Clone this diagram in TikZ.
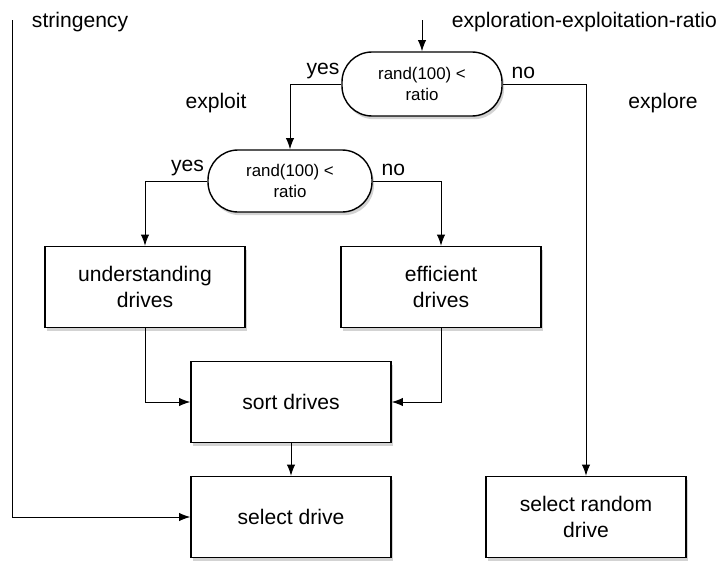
\documentclass[tikz,border=0pt]{standalone}
\usepackage{fontspec}
\setmainfont{Liberation Sans}
\usepackage{tikz}
\usetikzlibrary{arrows.meta}
\usetikzlibrary{positioning}
\usetikzlibrary{shadows}

\begin{document}
\begin{tikzpicture}[node distance=2.875cm, auto, >={Latex[length=2.8mm,width=2.1mm]}]

\tikzstyle{every node} = [font=\fontsize{15}{19}\selectfont]
\tikzstyle{box} = [draw, line width=1pt, fill=white, align=center, minimum width=5cm, minimum height=2.025cm, drop shadow={shadow xshift=0.05cm, shadow yshift=-0.08cm, opacity=0.35}]
\tikzstyle{decision} = [draw, line width=1pt, fill=white, rounded corners=0.75cm, align=center, minimum width=4cm, minimum height=1.6cm, font=\fontsize{12}{15.5}\selectfont, drop shadow={shadow xshift=0.05cm, shadow yshift=-0.08cm, opacity=0.35}]
\tikzstyle{line} = [line width=0.7pt, ->]

\useasboundingbox (0,0) rectangle (18.075,-14.025);

\node[decision] (1) at (10.55,-2.1) {rand(100) <\\ratio};
\node[decision, minimum width=4.1cm, minimum height=1.55cm] (2) at (7.25,-4.525) {rand(100) <\\ratio};
\node[box] (3) at (3.625,-7.175) {understanding\\drives};
\node[box] (4) [right of=3, node distance=7.4cm] {efficient\\drives};
\node[box] (5) at (7.275,-10.05) {sort drives};
\node[box] (6) [below of=5] {select drive};
\node[box] (7) [right of=6, node distance=7.375cm] {select random\\drive};

\coordinate (in) at (10.55,-0.5);
\coordinate (str) at (0.3,-0.5);

\node[anchor=west] (8) at (0.675,-0.55) {stringency};
\node[anchor=west] (9) at (11.175,-0.55) {exploration-exploitation-ratio};
\node (10) at (5.4,-2.575) {exploit};
\node (11) at (16.575,-2.575) {explore};

\draw[line] (in) -- (1.north);
\draw[line] (str) |- (6.west);
\draw[line] (1.west) -| node[pos=0, anchor=south east, inner xsep=1pt] {yes} (2.north);
\draw[line] (1.east) -| node[pos=0, anchor=south west, inner xsep=6pt] {no} (7.north);
\draw[line] (2.west) -| node[pos=0, anchor=south east, inner xsep=2pt] {yes} (3.north);
\draw[line] (2.east) -| node[pos=0, anchor=south west, inner xsep=6pt] {no} (4.north);
\draw[line] (3.south) |- (5.west);
\draw[line] (4.south) |- (5.east);
\draw[line] (5) -- (6);

\end{tikzpicture}
\end{document}
